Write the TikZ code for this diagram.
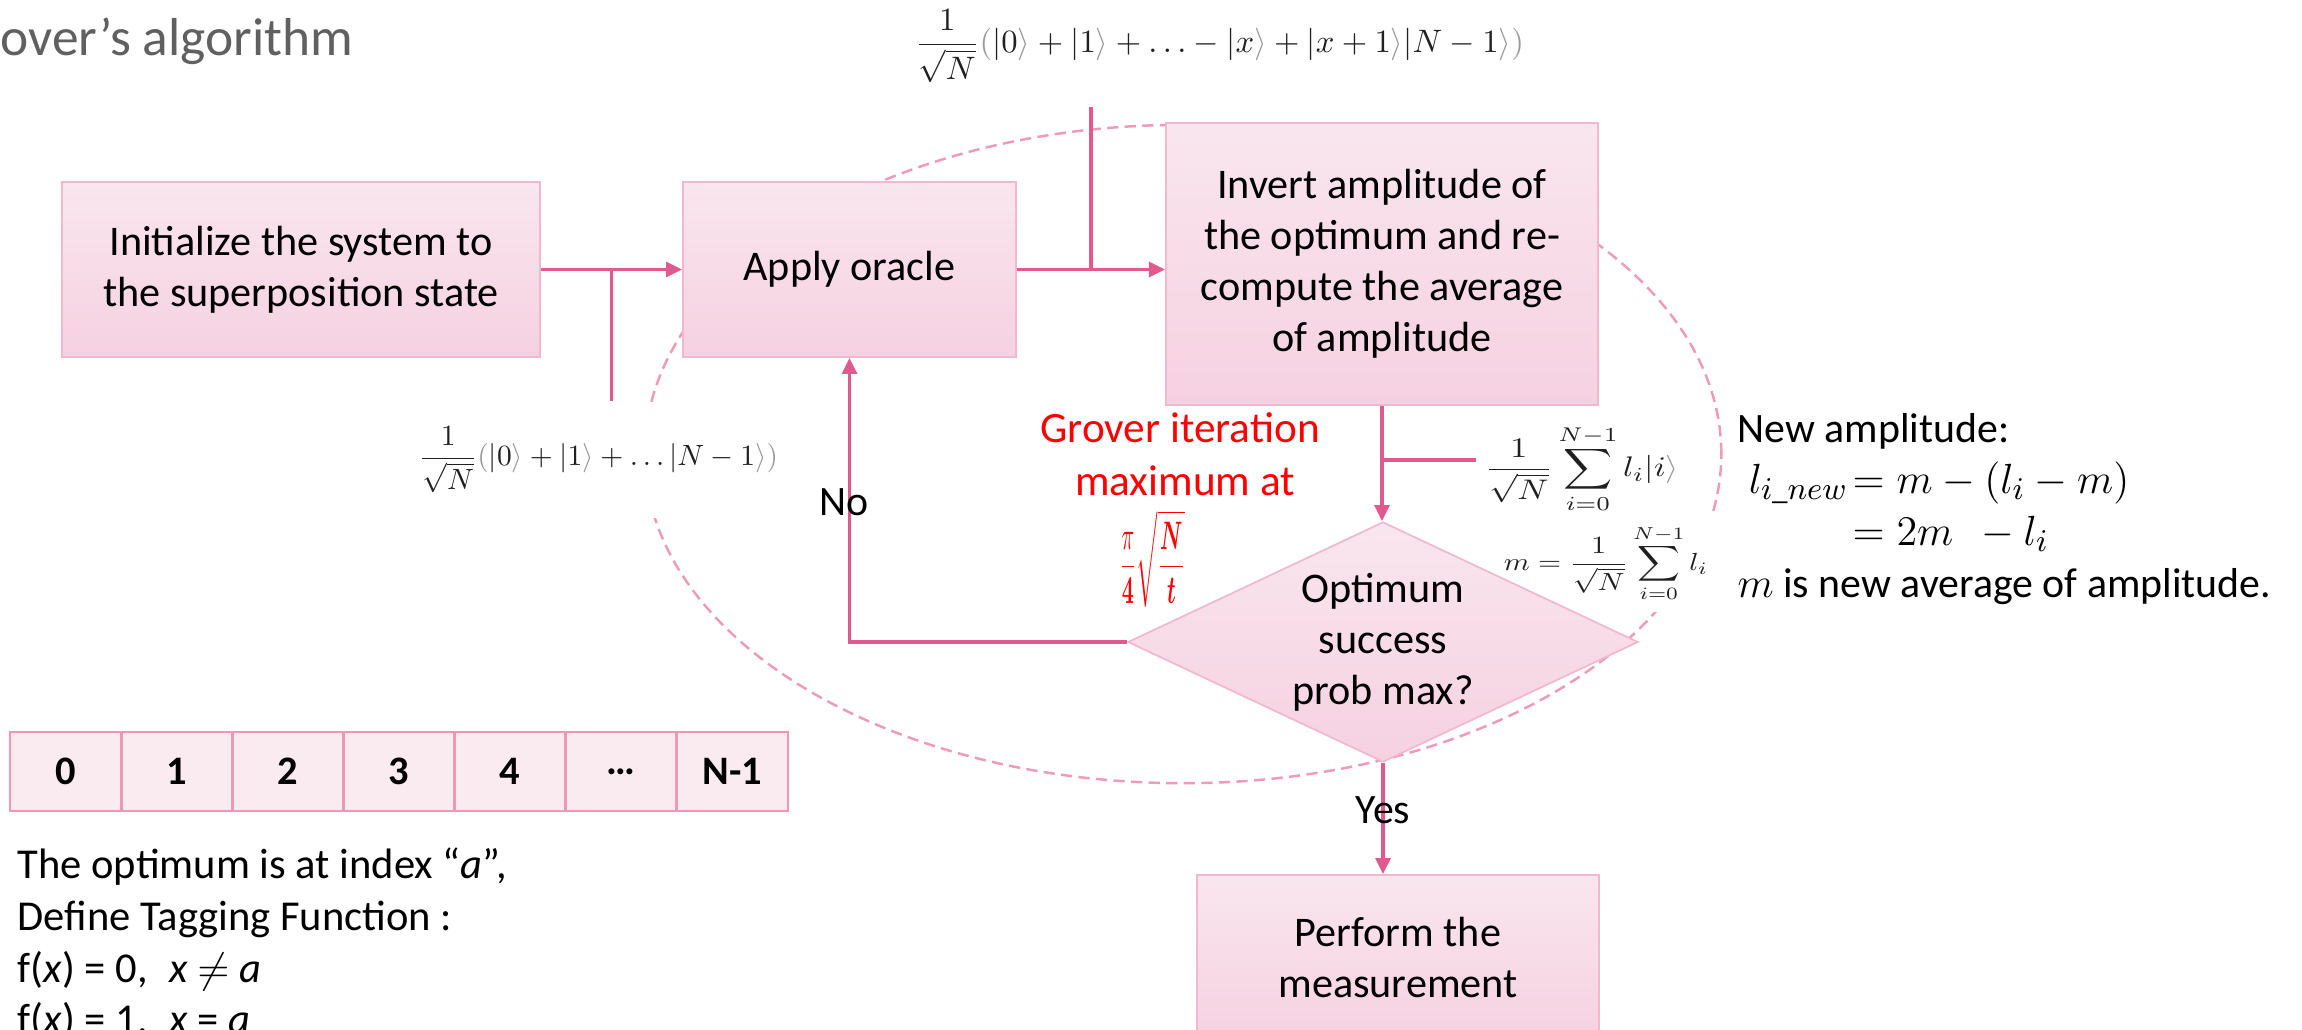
\documentclass[tikz,border=0pt]{standalone}
\usepackage{amsmath}
\usepackage[no-math]{fontspec}
\setmainfont{Carlito}
\usetikzlibrary{arrows.meta,shapes.geometric,shadings,calc}
\definecolor{arrowc}{HTML}{E05A8D}
\definecolor{boxtop}{HTML}{F9E6EE}
\definecolor{boxbot}{HTML}{F6D1E1}
\definecolor{boxline}{HTML}{F2B8CE}
\definecolor{cellfill}{HTML}{FAEBF1}
\definecolor{cellline}{HTML}{EE98B7}
\definecolor{ellc}{HTML}{EE9AB8}
\definecolor{titlec}{HTML}{606060}
\definecolor{kgray}{HTML}{9A9A9A}
\definecolor{formc}{HTML}{202020}
\newcommand\kt[1]{|#1\textcolor{kgray}{\rangle}}
\begin{document}
\begin{tikzpicture}[x=0.01cm,y=-0.01cm,
  flowbox/.style={draw=boxline, line width=0.5pt, top color=boxtop, bottom color=boxbot,
    align=center, font=\fontsize{12}{14.5}\selectfont, inner sep=0pt},
  decision/.style={diamond, aspect=2.125, draw=boxline, line width=0.5pt, top color=boxtop,
    bottom color=boxbot, align=center, font=\fontsize{12}{14.5}\selectfont, inner sep=0pt,
    minimum width=5.1cm, minimum height=2.4cm},
  arr/.style={draw=arrowc, line width=0.9pt, -{Triangle[length=0.16cm,width=0.15cm]}},
  conn/.style={draw=arrowc, line width=0.9pt},
  cell/.style={draw=cellline, line width=0.8pt, fill=cellfill, minimum width=1.1114cm,
    minimum height=0.79cm, inner sep=0pt, font=\fontsize{11.5}{13}\selectfont\bfseries},
  plain/.style={font=\fontsize{11.9}{14}\selectfont, inner sep=0pt},
  formula/.style={inner sep=0pt, text=formc},
  ellipsestyle/.style={draw=ellc, line width=0.7pt, dash pattern=on 3.2pt off 1.8pt}
]
\useasboundingbox (0,0) rectangle (2302,1030);

% dashed iteration ellipse (behind everything)
\draw[ellipsestyle] (1183,454) ellipse [x radius=5.38cm, y radius=3.29cm];

% title
\node[anchor=base west, inner sep=0pt, text=titlec, font=\fontsize{15.2}{18}\selectfont] (title) at (0,55) {over’s algorithm};

% formulas
\node[formula, inner ysep=0.23cm] (topf) at (1219.5,46.5)
  {\resizebox*{6.09cm}{0.73cm}{$\displaystyle\frac{1}{\sqrt{N}}{\color{kgray}(}\kt{0}+\kt{1}+\ldots-\kt{x}+\kt{x+1}\kt{N-1}{\color{kgray})}$}};
\node[formula, fill=white, inner xsep=0.05cm, inner ysep=0.25cm] (leftf) at (598.5,460)
  {\resizebox*{3.59cm}{0.66cm}{$\displaystyle\frac{1}{\sqrt{N}}{\color{kgray}(}\kt{0}+\kt{1}+\ldots\kt{N-1}{\color{kgray})}$}};
\node[formula, inner xsep=0.08cm] (rf1) at (1582,469)
  {\resizebox*{1.94cm}{0.88cm}{$\displaystyle\frac{1}{\sqrt{N}}\sum_{i=0}^{N-1} l_i\kt{i}$}};
\node[formula, fill=white, inner sep=0.1cm] (rf2) at (1606,563.5)
  {\resizebox*{2.04cm}{0.77cm}{$\displaystyle m=\frac{1}{\sqrt{N}}\sum_{i=0}^{N-1} l_i$}};

% flow boxes
\node[flowbox, minimum width=4.78cm, minimum height=1.75cm] (init) at (301,269.5)
  {Initialize the system to\\the superposition state};
\node[flowbox, minimum width=3.33cm, minimum height=1.75cm] (apply) at (849.5,269.5)
  {Apply oracle};
\node[flowbox, minimum width=4.32cm, minimum height=2.82cm] (invert) at (1382,264)
  {Invert amplitude of\\the optimum and re-\\compute the average\\of amplitude};
\node[decision] (dia) at (1383,642) {Optimum\\success\\prob max?};
\node[flowbox, minimum width=4.02cm, minimum height=1.65cm] (perf) at (1398,957.5)
  {Perform the\\measurement};

% connectors
\draw[arr] (init) -- (apply);
\coordinate (j1) at ($(init.east)!0.5!(apply.west)$);
\draw[conn] (j1) -- (j1 |- leftf.north);
\draw[arr] (apply.east) -- (apply.east -| invert.west);
\coordinate (j2) at ($(apply.east)!0.5!(apply.east -| invert.west)$);
\draw[conn] (j2) -- (j2 |- topf.south);
\draw[arr] (invert.south) -- (invert.south |- dia.north);
\coordinate (j3) at ($(invert.south)!0.47!(invert.south |- dia.north)$);
\draw[conn] (j3) -- (j3 -| rf1.west);
\draw[arr] (dia.west) -| (apply.south);
\draw[arr] (dia.south) -- (dia.south |- perf.north);

% labels
\node[plain] (no) at (844,502) {No};
\node[plain] (yes) at (1383,810) {Yes};
\node[plain, text=red, anchor=base, font=\fontsize{12.3}{14}\selectfont] (gr1) at (1180,442) {Grover iteration};
\node[plain, text=red, anchor=base, font=\fontsize{12.3}{14}\selectfont] (gr2) at (1185,495) {maximum at};
\node[formula] (grf) at (1152,558.5)
  {\resizebox*{0.66cm}{0.97cm}{\color{red}$\displaystyle\frac{\pi}{\mathbf{4}}\sqrt{\frac{\boldsymbol{N}}{\boldsymbol{t}}}$}};

% right text
\node[plain, anchor=base west] (na) at (1737,442) {New amplitude:};
\node[plain, anchor=base east, font=\fontsize{12.6}{14}\selectfont] (lnew) at (1849,493) {$l_{i\_new}$};
\node[plain, anchor=base west, font=\fontsize{12.6}{14}\selectfont] (eq1) at (1852,493) {$=m-(l_i-m)$};
\node[plain, anchor=base west, font=\fontsize{12.6}{14}\selectfont] (eq2) at (1852,545) {$=2m\;\,-l_i$};
\node[plain, anchor=base west] (mavg) at (1737,597) {{\fontsize{12.6}{14}\selectfont$m$} is new average of amplitude.};

% array of indices
\foreach \lab [count=\i from 0] in {0,1,2,3,4,…,N-1}
  \node[cell] (c\i) at ({10+111.14*(\i+0.5)},771.5) {\lab};

% tagging text
\node[plain, anchor=base west, font=\fontsize{12.1}{14}\selectfont] (t1) at (17,878) {The optimum is at index “\textit{a}”,};
\node[plain, anchor=base west, font=\fontsize{12.1}{14}\selectfont] (t2) at (17,930) {Define Tagging Function :};
\node[plain, anchor=base west, font=\fontsize{12.1}{14}\selectfont] (t3) at (17,982) {f(\textit{x}) = 0,\enspace \textit{x} $\neq$ \textit{a}};
\node[plain, anchor=base west, font=\fontsize{12.1}{14}\selectfont] (t4) at (17,1033) {f(\textit{x}) = 1,\enspace \textit{x} = \textit{a}};
\end{tikzpicture}
\end{document}
